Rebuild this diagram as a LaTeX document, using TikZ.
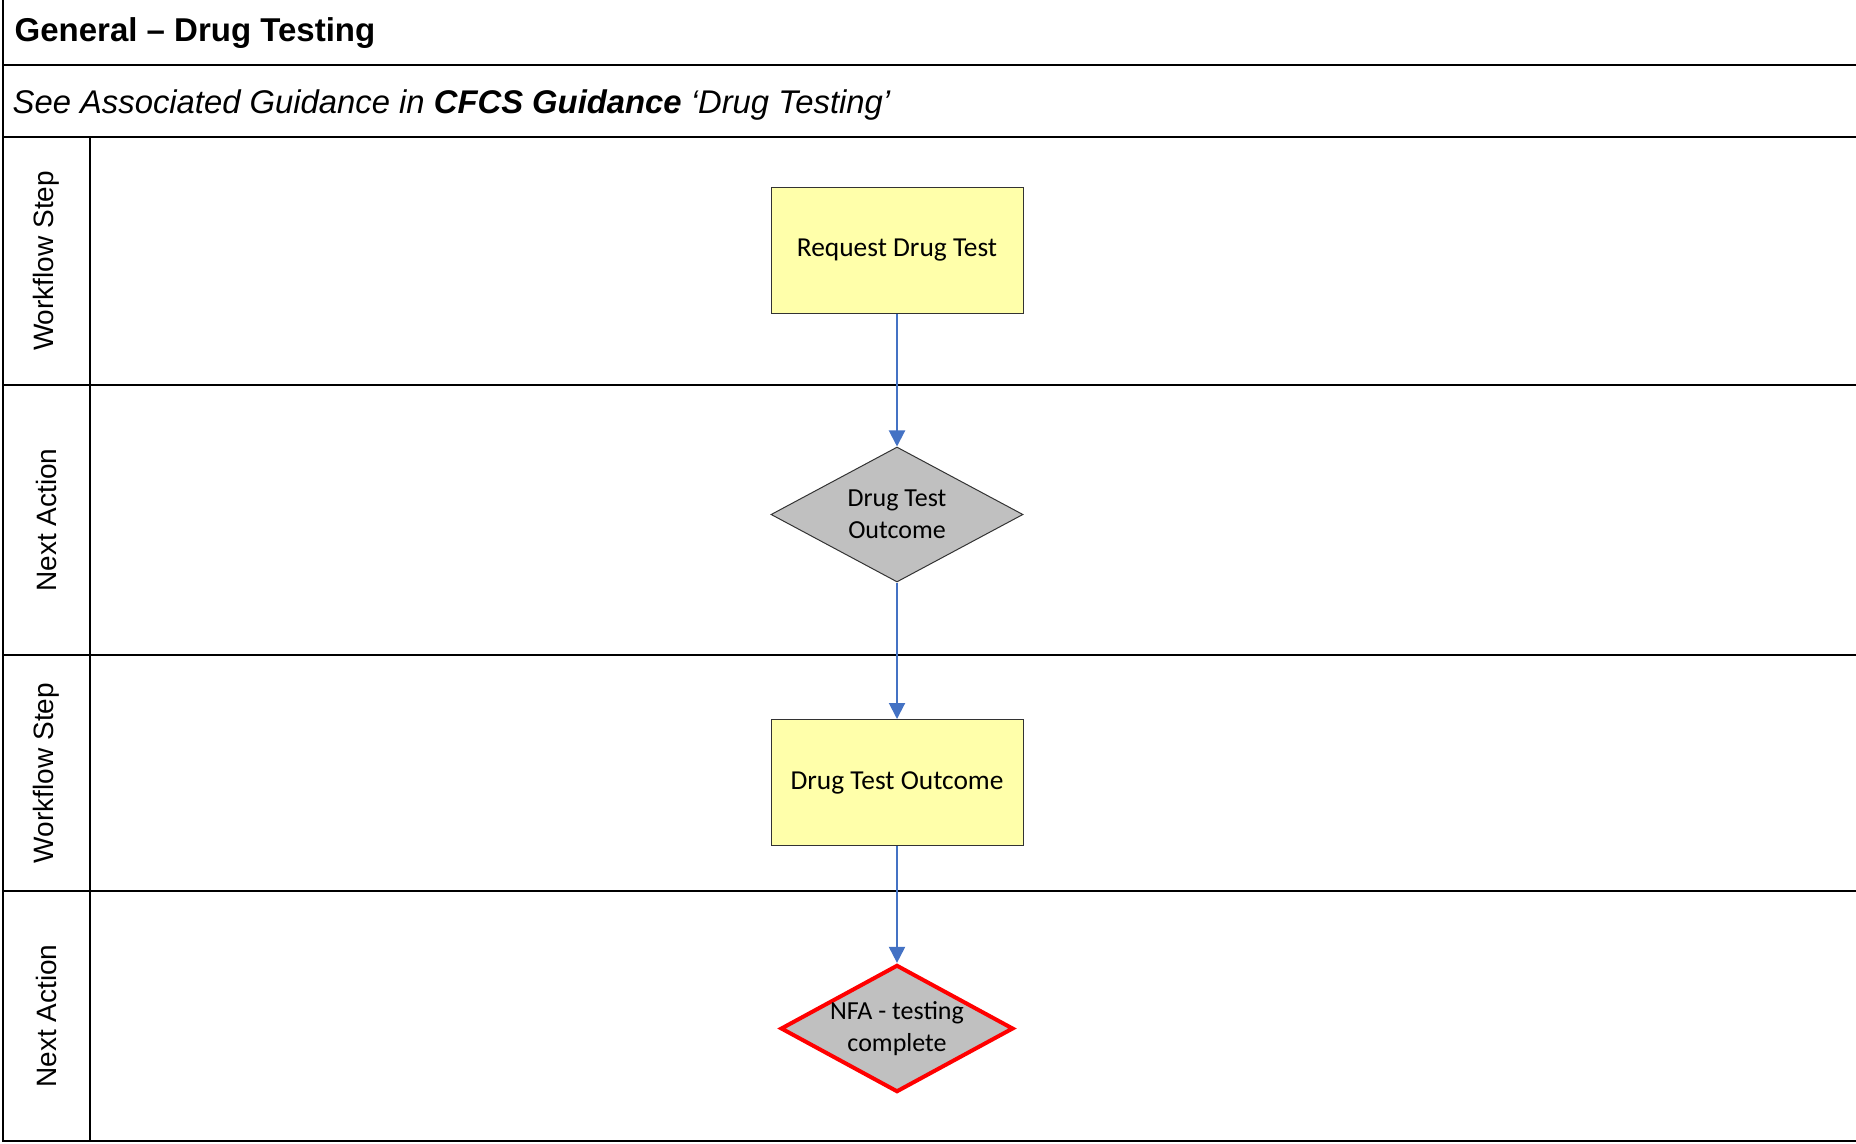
\documentclass[tikz,border=0pt]{standalone}
\usepackage{fontspec}
\setmainfont{Carlito}
\newfontfamily\arialfont{Liberation Sans}
\usetikzlibrary{shapes.geometric, arrows.meta}
\definecolor{stepyellow}{RGB}{255,255,170}
\definecolor{actiongray}{RGB}{192,192,192}
\definecolor{flowblue}{RGB}{68,114,196}
\tikzstyle{workstep} = [rectangle, minimum width=126pt, minimum height=63pt, align=center, draw=black!80, line width=0.5pt, fill=stepyellow, font=\fontsize{13.7}{15}\selectfont]
\tikzstyle{decision} = [diamond, shape aspect=1.87, minimum width=126pt, minimum height=67.5pt, inner sep=0pt, align=center, draw=black!80, line width=0.5pt, fill=actiongray, font=\fontsize{13}{16}\selectfont]
\tikzstyle{finish} = [decision, shape aspect=1.83, minimum width=116pt, minimum height=63pt, draw=red, line width=2pt, line join=miter]
\tikzstyle{lanelabel} = [rotate=90, font=\arialfont\fontsize{14}{16}\selectfont]
\tikzstyle{arrow} = [flowblue, line width=1pt, -{Triangle[length=8pt,width=8pt]}]

\begin{document}
\begin{tikzpicture}[x=0.5pt, y=-0.5pt, line width=1pt, node distance=132pt]
\useasboundingbox (0,0) rectangle (1856,1144);
% frame and lanes
\draw (3,0) -- (3,1141) -- (1856,1141);
\foreach \yy in {65,137,385,655,891}
  \draw (3,\yy) -- (1856,\yy);
\draw (90,137) -- (90,1141);
\node[anchor=west, font=\arialfont\bfseries\fontsize{16.5}{19}\selectfont] (title) at (7,33) {General – Drug Testing};
\node[anchor=west, font=\arialfont\itshape\fontsize{16.4}{19}\selectfont] (guide) at (5,105) {See Associated Guidance in \textbf{CFCS Guidance} ‘Drug Testing’};
\node (lane1) [lanelabel] at (46,261) {Workflow Step};
\node (lane2) [lanelabel] at (46,520) {Next Action};
\node (lane3) [lanelabel] at (46,773) {Workflow Step};
\node (lane4) [lanelabel] at (46,1016) {Next Action};

\node (request) [workstep] at (897,250.5) {Request Drug Test};
\node (outcomeq) [decision, below of=request] {Drug Test\\Outcome};
\node (outcome) [workstep, below of=outcomeq, yshift=-2pt] {Drug Test Outcome};
\node (nfa) [finish, below of=outcome, yshift=9pt] {NFA - testing\\complete};

\draw[arrow] (request) -- (outcomeq);
\draw[arrow] (outcomeq) -- (outcome);
\draw[arrow] (outcome) -- (nfa);
\end{tikzpicture}
\end{document}
